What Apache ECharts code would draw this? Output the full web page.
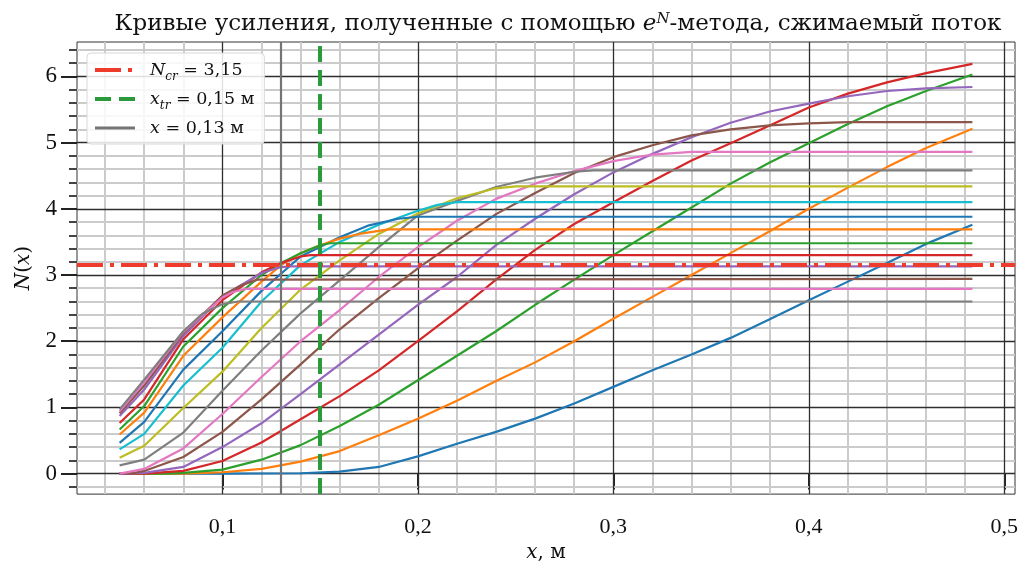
<!DOCTYPE html>
<html>
<head>
<meta charset="utf-8">
<script src="https://cdn.jsdelivr.net/npm/echarts@6/dist/echarts.min.js"></script>
<style>
  html, body { margin: 0; background: #fff; }
  #chart { width: 1021px; height: 568px; }
</style>
</head>
<body>
<div id="chart"></div>
<script>
// axis ticks
const xMajorTicks = [0.1, 0.2, 0.3, 0.4, 0.5]
const xMinorTicks = [0.04, 0.06, 0.08, 0.12, 0.14, 0.16, 0.18, 0.22, 0.24, 0.26, 0.28,
  0.32, 0.34, 0.36, 0.38, 0.42, 0.44, 0.46, 0.48]
const yMajorTicks = [0, 1, 2, 3, 4, 5, 6]
const yMinorTicks = [-0.2, 0.2, 0.4, 0.6, 0.8, 1.2, 1.4, 1.6, 1.8, 2.2, 2.4, 2.6, 2.8,
  3.2, 3.4, 3.6, 3.8, 4.2, 4.4, 4.6, 4.8, 5.2, 5.4, 5.6, 5.8, 6.2, 6.4]

// reference values
const nCritical = 3.15
const xTransition = 0.15
const xMark = 0.13

// N-factor curves, [x, N]
const curve01 = [[0.0474, 0], [0.10, 0], [0.14, 0.005], [0.16, 0.03], [0.18, 0.1], [0.20, 0.26], [0.22, 0.45],
  [0.24, 0.63], [0.26, 0.83], [0.28, 1.06], [0.30, 1.31], [0.32, 1.56], [0.34, 1.80], [0.36, 2.05], [0.38, 2.33],
  [0.40, 2.62], [0.42, 2.90], [0.44, 3.18], [0.46, 3.47], [0.4837, 3.76]]
const curve02 = [[0.0474, 0], [0.08, 0], [0.10, 0.02], [0.12, 0.07], [0.14, 0.18], [0.16, 0.34], [0.18, 0.58],
  [0.20, 0.83], [0.22, 1.10], [0.24, 1.40], [0.26, 1.68], [0.28, 2.0], [0.30, 2.34], [0.32, 2.67], [0.34, 3.0],
  [0.36, 3.33], [0.38, 3.66], [0.40, 4.0], [0.42, 4.32], [0.44, 4.63], [0.46, 4.92], [0.4837, 5.21]]
const curve03 = [[0.0474, 0], [0.07, 0], [0.08, 0.01], [0.10, 0.06], [0.12, 0.21], [0.14, 0.43], [0.16, 0.72],
  [0.18, 1.04], [0.20, 1.41], [0.22, 1.78], [0.24, 2.15], [0.26, 2.55], [0.28, 2.93], [0.30, 3.30], [0.32, 3.66],
  [0.34, 4.02], [0.36, 4.38], [0.38, 4.70], [0.40, 4.99], [0.42, 5.28], [0.44, 5.55], [0.46, 5.78], [0.4837, 6.03]]
const curve04 = [[0.0474, 0], [0.06, 0], [0.08, 0.04], [0.10, 0.19], [0.12, 0.47], [0.14, 0.82], [0.16, 1.17],
  [0.18, 1.56], [0.20, 2.0], [0.22, 2.45], [0.24, 2.93], [0.26, 3.38], [0.28, 3.77], [0.30, 4.10], [0.32, 4.42],
  [0.34, 4.73], [0.36, 4.99], [0.38, 5.26], [0.40, 5.53], [0.42, 5.74], [0.44, 5.91], [0.46, 6.05], [0.4837, 6.19]]
const curve05 = [[0.0474, 0], [0.06, 0.01], [0.08, 0.1], [0.10, 0.4], [0.12, 0.76], [0.14, 1.2], [0.16, 1.65],
  [0.18, 2.10], [0.20, 2.55], [0.22, 2.97], [0.24, 3.45], [0.26, 3.85], [0.28, 4.22], [0.30, 4.55], [0.32, 4.83],
  [0.34, 5.08], [0.36, 5.30], [0.38, 5.47], [0.40, 5.59], [0.42, 5.70], [0.44, 5.78], [0.46, 5.82], [0.4837, 5.84]]
const curve06 = [[0.0474, 0], [0.055, 0.01], [0.06, 0.04], [0.08, 0.25], [0.10, 0.63], [0.12, 1.12], [0.14, 1.65],
  [0.16, 2.18], [0.18, 2.65], [0.20, 3.10], [0.22, 3.52], [0.24, 3.92], [0.26, 4.24], [0.28, 4.54], [0.30, 4.78],
  [0.32, 4.96], [0.34, 5.11], [0.36, 5.20], [0.38, 5.26], [0.40, 5.29], [0.42, 5.31], [0.4837, 5.31]]
const curve07 = [[0.0474, 0], [0.06, 0.07], [0.08, 0.38], [0.10, 0.9], [0.12, 1.46], [0.14, 2.0], [0.16, 2.47],
  [0.18, 2.97], [0.20, 3.42], [0.22, 3.82], [0.24, 4.15], [0.26, 4.38], [0.28, 4.57], [0.30, 4.72], [0.32, 4.82],
  [0.34, 4.86], [0.4837, 4.86]]
const curve08 = [[0.0474, 0.125], [0.06, 0.21], [0.08, 0.62], [0.10, 1.25], [0.12, 1.86], [0.14, 2.42], [0.16, 2.92],
  [0.18, 3.42], [0.20, 3.90], [0.22, 4.12], [0.24, 4.33], [0.26, 4.47], [0.28, 4.56], [0.29, 4.58], [0.4837, 4.58]]
const curve09 = [[0.0474, 0.24], [0.06, 0.42], [0.08, 0.99], [0.10, 1.54], [0.12, 2.2], [0.14, 2.78], [0.16, 3.22],
  [0.18, 3.62], [0.20, 3.93], [0.22, 4.16], [0.24, 4.31], [0.25, 4.34], [0.4837, 4.34]]
const curve10 = [[0.0474, 0.365], [0.06, 0.6], [0.08, 1.33], [0.10, 1.9], [0.12, 2.6], [0.14, 3.15], [0.16, 3.5],
  [0.18, 3.76], [0.20, 3.97], [0.21, 4.06], [0.22, 4.10], [0.4837, 4.10]]
const curve11 = [[0.0474, 0.465], [0.06, 0.78], [0.08, 1.57], [0.10, 2.15], [0.12, 2.76], [0.14, 3.28], [0.16, 3.57],
  [0.175, 3.75], [0.19, 3.85], [0.20, 3.88], [0.4837, 3.88]]
const curve12 = [[0.0474, 0.59], [0.06, 0.92], [0.08, 1.78], [0.10, 2.36], [0.12, 2.9], [0.13, 3.15], [0.14, 3.33],
  [0.15, 3.45], [0.16, 3.55], [0.17, 3.62], [0.185, 3.69], [0.4837, 3.69]]
const curve13 = [[0.0474, 0.665], [0.06, 1.02], [0.08, 1.92], [0.10, 2.5], [0.12, 3.0], [0.13, 3.18], [0.14, 3.33],
  [0.15, 3.45], [0.155, 3.48], [0.4837, 3.48]]
const curve14 = [[0.0474, 0.765], [0.06, 1.12], [0.08, 2.03], [0.10, 2.62], [0.12, 3.04], [0.13, 3.18], [0.14, 3.28],
  [0.145, 3.30], [0.4837, 3.30]]
const curve15 = [[0.0474, 0.87], [0.06, 1.27], [0.08, 2.08], [0.10, 2.68], [0.12, 3.03], [0.13, 3.12], [0.135, 3.13],
  [0.4837, 3.13]]
const curve16 = [[0.0474, 0.91], [0.06, 1.33], [0.08, 2.12], [0.10, 2.69], [0.11, 2.85], [0.118, 2.93], [0.4837, 2.94]]
const curve17 = [[0.0474, 0.94], [0.06, 1.38], [0.08, 2.14], [0.10, 2.66], [0.105, 2.74], [0.112, 2.79], [0.4837, 2.79]]
const curve18 = [[0.0474, 0.97], [0.06, 1.42], [0.08, 2.15], [0.09, 2.42], [0.10, 2.56], [0.108, 2.60], [0.4837, 2.60]]

const curves = [curve01, curve02, curve03, curve04, curve05, curve06, curve07, curve08, curve09,
  curve10, curve11, curve12, curve13, curve14, curve15, curve16, curve17, curve18]
const palette = ['#1f77b4', '#ff7f0e', '#2ca02c', '#d62728', '#9467bd',
  '#8c564b', '#e377c2', '#7f7f7f', '#bcbd22', '#17becf']

const serif = '"Liberation Serif", "DejaVu Serif", serif'
const wide = '"DejaVu Serif", "Liberation Serif", serif'
const X_MIN = 0.0256, X_MAX = 0.5055, Y_MIN = -0.31, Y_MAX = 6.52
const comma = (v, d) => v.toFixed(d).replace('.', ',')

const minorGrid = { color: '#cbcbcb', width: 2, type: 'solid' }
const majorGrid = { color: '#2e2e2e', width: 1.3, type: 'solid' }

const gridLines = [
  ...xMinorTicks.map(v => ({ xAxis: v, lineStyle: minorGrid })),
  ...yMinorTicks.map(v => ({ yAxis: v, lineStyle: minorGrid })),
  ...xMajorTicks.map(v => ({ xAxis: v, lineStyle: majorGrid })),
  ...yMajorTicks.map(v => ({ yAxis: v, lineStyle: majorGrid }))
]

const refLine = (name, style, item, z) => ({
  name,
  type: 'line',
  data: [],
  symbol: 'none',
  color: style.color,
  lineStyle: style,
  z,
  markLine: {
    z,
    silent: true,
    symbol: ['none', 'none'],
    label: { show: false },
    animation: false,
    lineStyle: style,
    data: [item]
  }
})

const ncrStyle = { color: '#ee3b2b', width: 4, type: [26, 7, 4, 7], cap: 'butt' }
const xtrStyle = { color: '#2a9a3a', width: 4, type: [16, 8], cap: 'butt' }
const xStyle = { color: '#747474', width: 2.2, type: 'solid' }

const legendText = {
  Ncr: `{i|N}{s|cr}{t| = ${comma(nCritical, 2)}}`,
  xtr: `{i|x}{s|tr}{t| = ${comma(xTransition, 2)} м}`,
  xm: `{i|x}{t| = ${comma(xMark, 2)} м}`
}

const txt = { color: '#111', fontWeight: 'normal' }

const chart = echarts.init(document.getElementById('chart'))
const option = {
  backgroundColor: '#fff',
  animation: false,
  title: {
    text: '{t|Кривые усиления, полученные с помощью }{e|e}{n|N}{t|-метода, сжимаемый поток}',
    left: 553,
    top: 1,
    textAlign: 'center',
    textStyle: {
      fontWeight: 'normal',
      rich: {
        t: { ...txt, fontFamily: wide, fontSize: 23, lineHeight: 30, verticalAlign: 'bottom' },
        e: { ...txt, fontFamily: wide, fontSize: 23, fontStyle: 'italic', lineHeight: 30, verticalAlign: 'bottom' },
        n: { ...txt, fontFamily: wide, fontSize: 15, fontStyle: 'italic', lineHeight: 15, verticalAlign: 'top', padding: [6, 0, 0, 0] }
      }
    }
  },
  legend: {
    data: [
      { name: 'Ncr', lineStyle: { width: 4 } },
      { name: 'xtr', lineStyle: { width: 4 } },
      { name: 'xm', lineStyle: { width: 3 } }
    ],
    orient: 'vertical',
    left: 87,
    top: 53,
    z: 10,
    itemWidth: 40,
    itemHeight: 14,
    itemGap: 7,
    padding: [8, 10, 7, 6],
    backgroundColor: 'rgba(255,255,255,0.85)',
    borderColor: '#d8d8d8',
    borderWidth: 1,
    borderRadius: 4,
    itemStyle: { color: 'transparent', borderWidth: 0, opacity: 0 },
    formatter: name => legendText[name],
    textStyle: {
      rich: {
        i: { ...txt, fontFamily: wide, fontSize: 17.5, fontStyle: 'italic', lineHeight: 26, padding: [0, 0, 0, 10] },
        s: { ...txt, fontFamily: wide, fontSize: 12, fontStyle: 'italic', lineHeight: 12, verticalAlign: 'bottom' },
        t: { ...txt, fontFamily: wide, fontSize: 17.5, lineHeight: 26 }
      }
    }
  },
  grid: {
    left: 77, right: 4, top: 42, bottom: 67,
    show: true, borderColor: '#333', borderWidth: 1, backgroundColor: 'transparent'
  },
  xAxis: [
    {
      type: 'value', min: X_MIN, max: X_MAX, position: 'bottom',
      name: '{i|x}{t|, м}', nameLocation: 'middle', nameGap: 43,
      nameTextStyle: {
        rich: {
          i: { ...txt, fontFamily: wide, fontSize: 20, fontStyle: 'italic' },
          t: { ...txt, fontFamily: wide, fontSize: 20 }
        }
      },
      axisLine: { show: false },
      axisTick: { show: true, customValues: xMajorTicks, length: 16, lineStyle: { color: '#222', width: 2 } },
      axisLabel: {
        customValues: xMajorTicks, margin: 22, fontFamily: serif, fontSize: 22, color: '#111',
        formatter: v => comma(v, 1)
      },
      splitLine: { show: false }
    },
    {
      type: 'value', min: X_MIN, max: X_MAX, position: 'bottom',
      axisLine: { show: false },
      axisTick: { show: true, customValues: xMinorTicks, length: 8, lineStyle: { color: '#444', width: 2 } },
      axisLabel: { show: false },
      splitLine: { show: false }
    }
  ],
  yAxis: [
    {
      type: 'value', min: Y_MIN, max: Y_MAX, position: 'left',
      name: '{i|N}{t|(}{i|x}{t|)}', nameLocation: 'middle', nameGap: 43, nameRotate: 90,
      nameTextStyle: {
        rich: {
          i: { ...txt, fontFamily: wide, fontSize: 20, fontStyle: 'italic' },
          t: { ...txt, fontFamily: wide, fontSize: 20 }
        }
      },
      axisLine: { show: false },
      axisTick: { show: true, customValues: yMajorTicks, length: 16, lineStyle: { color: '#222', width: 2 } },
      axisLabel: {
        customValues: yMajorTicks, margin: 20, fontFamily: serif, fontSize: 23, color: '#111',
        formatter: v => String(v)
      },
      splitLine: { show: false }
    },
    {
      type: 'value', min: Y_MIN, max: Y_MAX, position: 'left',
      axisLine: { show: false },
      axisTick: { show: true, customValues: yMinorTicks, length: 8, lineStyle: { color: '#444', width: 2 } },
      axisLabel: { show: false },
      splitLine: { show: false }
    }
  ],
  series: [
    {
      type: 'line',
      data: [],
      silent: true,
      z: 1,
      markLine: {
        z: 1,
        silent: true,
        symbol: ['none', 'none'],
        label: { show: false },
        animation: false,
        data: gridLines
      }
    },
    ...curves.map((pts, i) => ({
      name: 'curve' + (i + 1),
      type: 'line',
      data: pts,
      symbol: 'none',
      showSymbol: false,
      color: palette[i % palette.length],
      lineStyle: { width: 2.2 },
      z: 2
    })),
    refLine('Ncr', ncrStyle, { yAxis: nCritical }, 3),
    refLine('xtr', xtrStyle, { xAxis: xTransition }, 3),
    refLine('xm', xStyle, { xAxis: xMark }, 3)
  ]
}
chart.setOption(option)
</script>
</body>
</html>
